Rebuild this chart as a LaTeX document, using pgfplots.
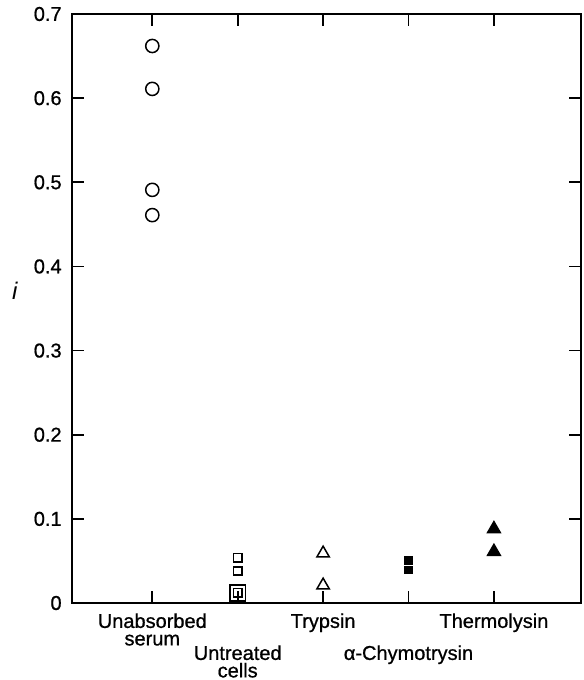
\documentclass[border=0pt]{standalone}
\usepackage{fontspec}
\setmainfont{Liberation Sans}
\newfontfamily\lab{Liberation Sans}[FakeBold=0.8]
\usepackage{pgfplots}
\pgfplotsset{compat=1.18}

\begin{document}
\begin{tikzpicture}
\begin{axis}[
    scale only axis,
    width=254.5pt, height=294.5pt,
    xmin=0.06, xmax=6.02,
    ymin=0, ymax=0.7,
    axis line style={line width=1pt},
    xtick={1,3,5},
    xticklabels={{Unabsorbed\\serum},{Trypsin},{Thermolysin}},
    extra x ticks={2,4},
    extra x tick labels={{Untreated\\cells},{α-Chymotrysin}},
    extra x tick style={xticklabel style={yshift=-16pt}},
    xticklabel style={align=center, anchor=north, inner sep=0pt, yshift=-5pt,
        font=\lab\fontsize{10}{8.75}\selectfont},
    ytick={0,0.1,...,0.7},
    yticklabels={0,0.1,0.2,0.3,0.4,0.5,0.6,0.7},
    yticklabel style={inner sep=0pt, xshift=-5pt, font=\lab\fontsize{10}{12}\selectfont},
    tick align=inside,
    major tick length=6pt,
    tick style={line width=0.9pt, black},
    ylabel={\textit{i}},
    ylabel style={rotate=-90, at={(axis description cs:-0.112,0.53)}, anchor=center,
        font=\fontsize{12}{14}\selectfont},
    /pgf/number format/assume math mode=true,
    clip=false,
]
% Unabsorbed serum
\addplot[only marks, mark=o, mark size=3.3pt, line width=0.75pt] coordinates {
    (1,0.662) (1,0.611) (1,0.491) (1,0.461)};
% Untreated cells
\addplot[only marks, mark=square, mark size=2.1pt, line width=0.75pt] coordinates {
    (2,0.054) (2,0.038) (2,0.012)};
\addplot[only marks, mark=square, mark size=3.9pt, line width=0.8pt] coordinates {
    (2,0.012)};
% Trypsin
\addplot[only marks, mark=triangle, mark size=3.6pt, line width=0.75pt] coordinates {
    (3,0.059) (3,0.021)};
% alpha-Chymotrypsin
\addplot[only marks, mark=square*, mark size=1.9pt, line width=0.3pt] coordinates {
    (4,0.0505) (4,0.0395)};
% Thermolysin
\addplot[only marks, mark=triangle*, mark size=3.9pt, line width=0.5pt] coordinates {
    (5,0.088) (5,0.061)};
\path (axis description cs:-0.1415,-0.1307) rectangle (axis description cs:1.004,1.0238);
\end{axis}
\end{tikzpicture}
\end{document}
